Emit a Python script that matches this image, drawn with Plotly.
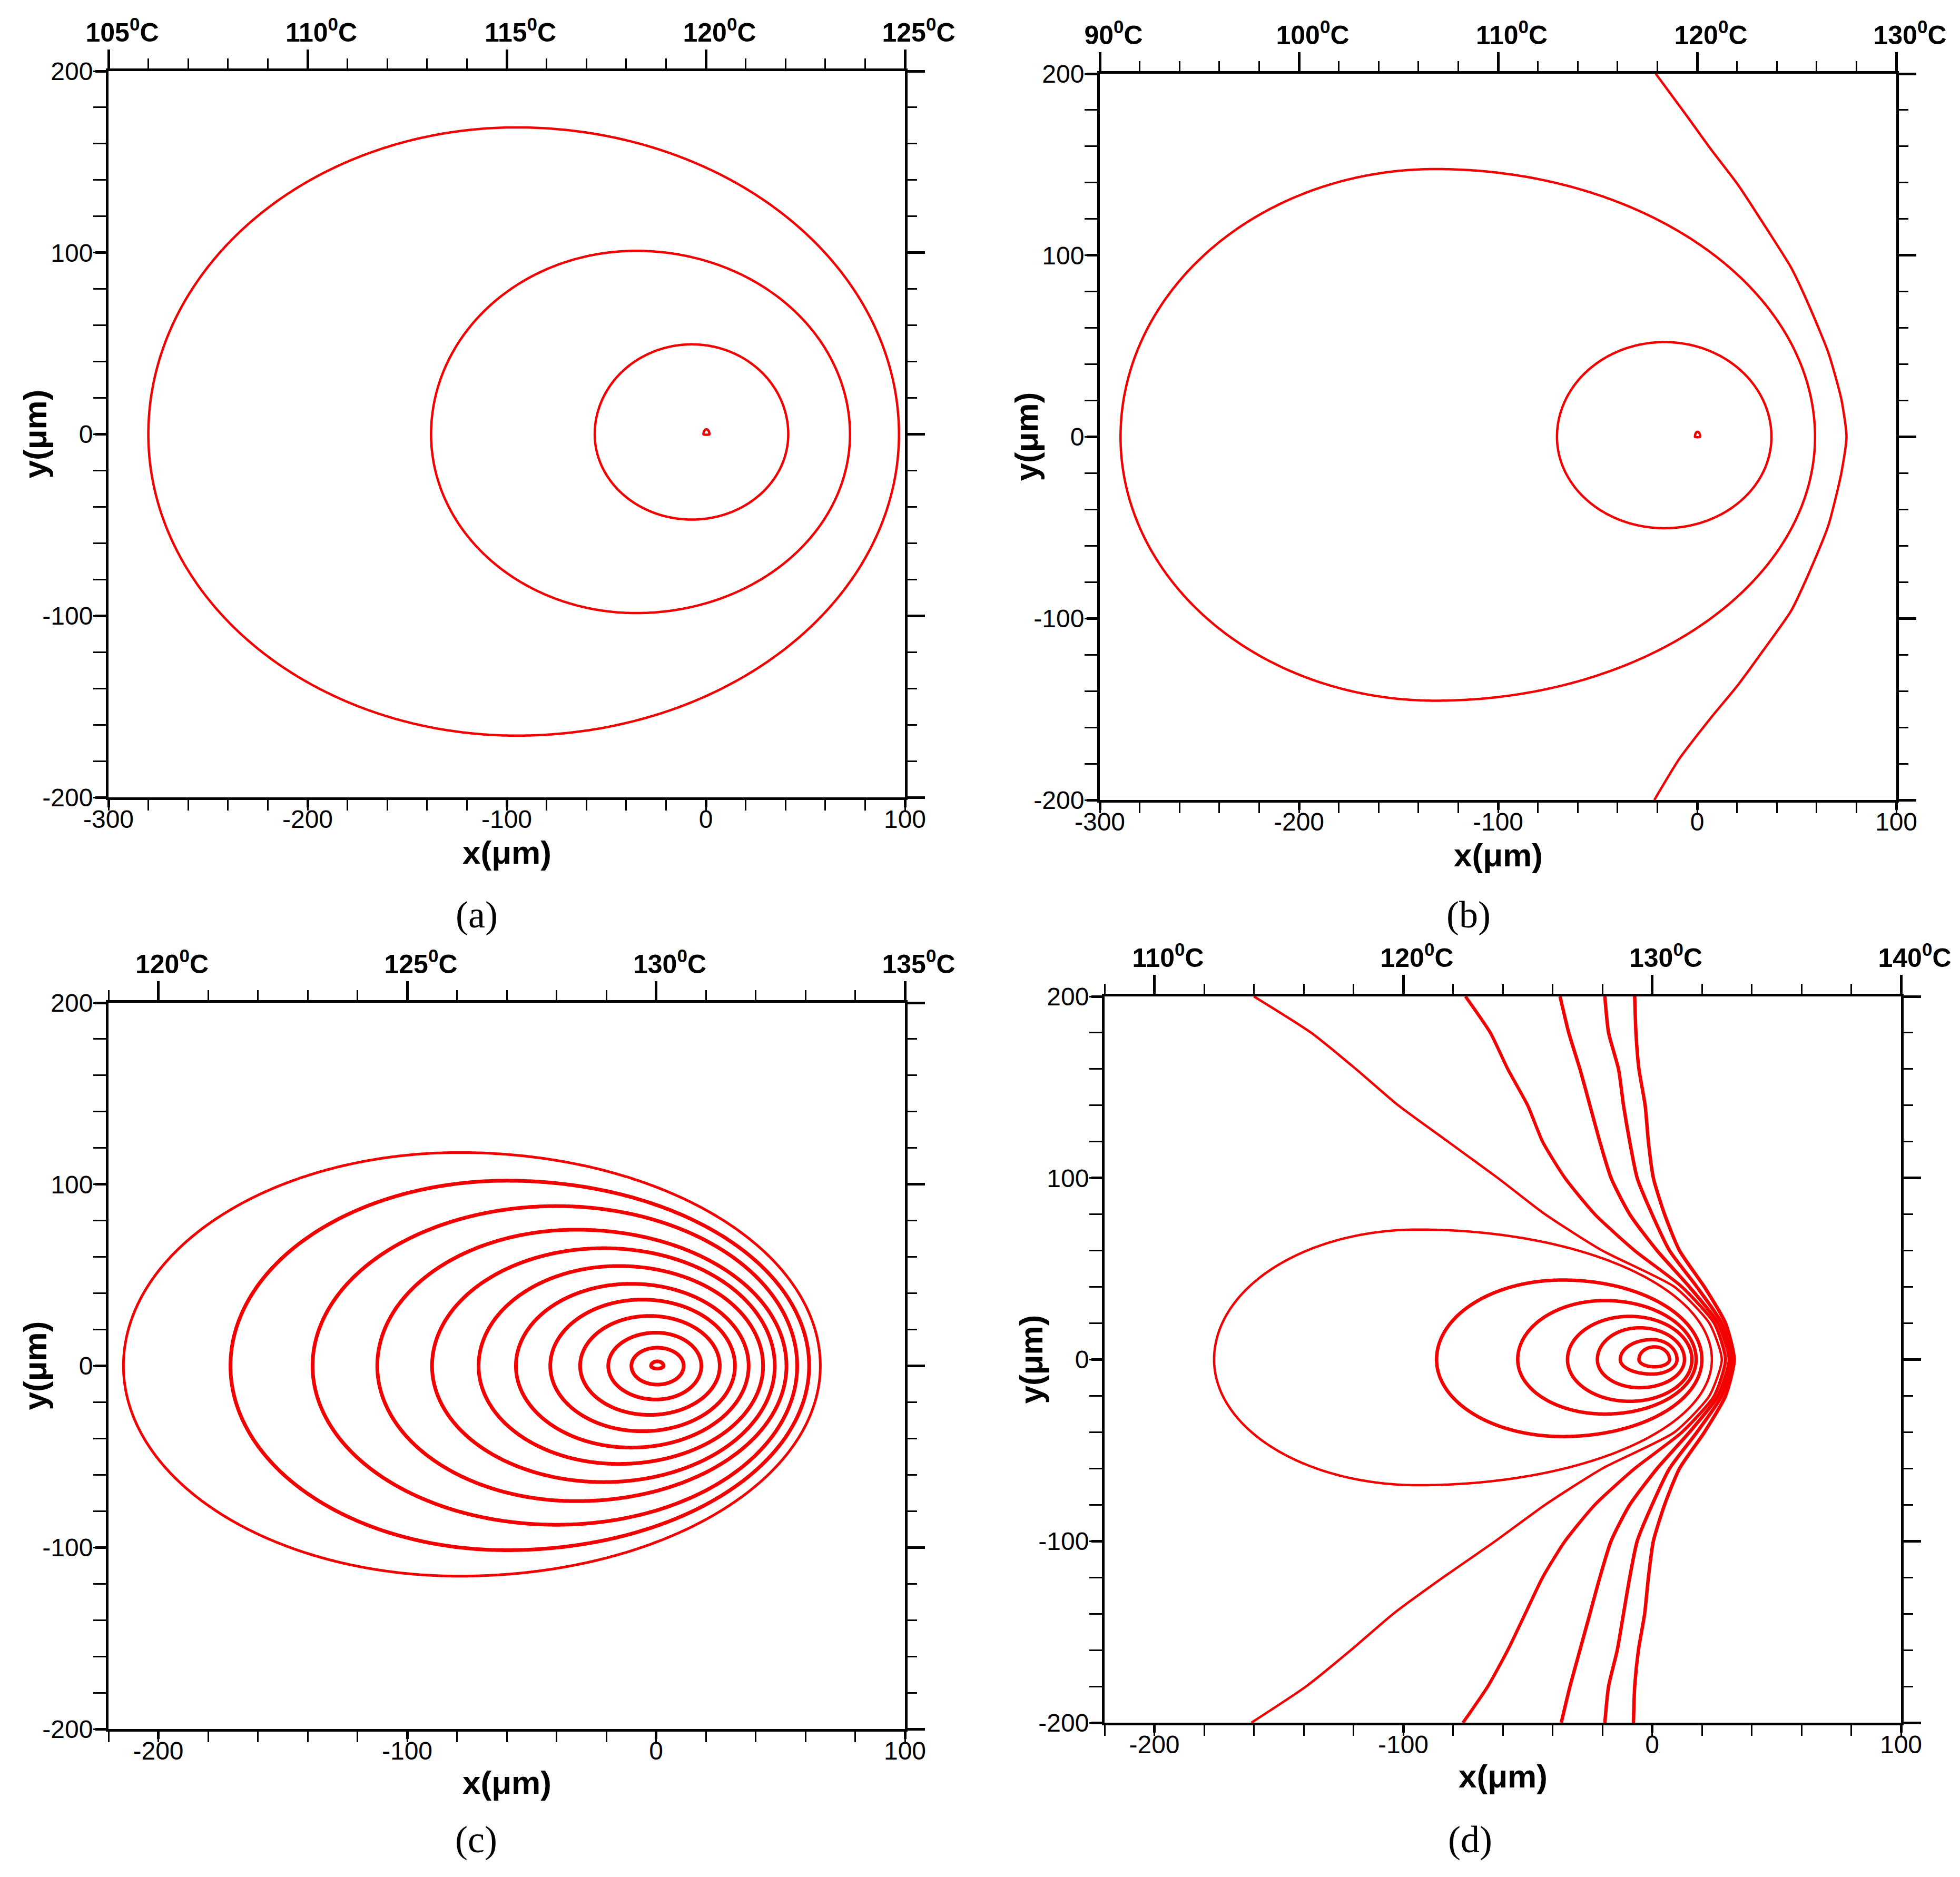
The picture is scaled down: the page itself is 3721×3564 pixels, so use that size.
import numpy as np
import plotly.graph_objects as go

W, H = 3721, 3564
OFF = 8  # page body margin in the browser
RED = "#f40000"

# ---------------- data (um) ----------------
# closed isotherms: left end, x of top/bottom extreme, right end, top, bottom
a_x_left = [-280, -138, -55.8, -1.2]
a_x_peak = [-95, -35, -7, 0.3]
a_x_right = [97, 72.4, 41.4, 1.8]
a_y_top = [169, 101, 49.5, 2.7]
a_y_bottom = [-166, -98.5, -47, -0.3]

b_x_left = [-289.6, -70.4, -1.1]
b_x_peak = [-131.5, -16.4, 0.2]
b_x_right = [59.2, 37.3, 1.5]
b_y_top = [147.5, 52.2, 2.8]
b_y_bottom = [-145.3, -50.3, -0.2]
# open isotherm in (b)
b_open_x = [-20.8, -6, 6.5, 20.6, 34.7, 47.3, 56.7, 66, 72.4, 75,
            72.4, 66, 56.7, 47.3, 33.2, 20.6, 6.5, -9, -21.5]
b_open_y = [200, 178, 159, 138.7, 115, 93, 71, 46, 20.8, 0,
            -20, -48.4, -73.6, -95.6, -117.6, -136.5, -155.3, -177.4, -200]

c_x_left = [-214, -171, -138, -112, -90, -71.3, -56.3, -42.5, -30.5, -19.2, -9.9, -2]
c_x_peak = [-79, -60, -40, -32, -21, -15, -10, -5.5, -2.6, 0, 0.5, 0.5]
c_x_right = [66, 61.5, 56.7, 52.4, 47.7, 43, 37.2, 31.7, 25.6, 18.2, 11.1, 3]
c_y_top = [117.5, 102, 88, 75, 64.8, 55, 45.2, 36.5, 27.5, 18.3, 10, 2.5]
c_y_bottom = [-115.8, -101.5, -87.5, -74.5, -64, -54, -45, -36, -27, -18.5, -10.3, -1.5]

d_x_left = [-176, -86.6, -54, -34, -22, -12.8, -5.3]
d_x_peak = [-94, -36, -19, -9, -5, 0, 1]
d_x_right = [24, 20, 17.7, 16, 13, 10, 7]
d_y_top = [71.6, 43.8, 32.5, 23.8, 17.5, 11, 7]
d_y_bottom = [-69.2, -42.4, -30, -23, -15.5, -8, -4]
# open isotherms in (d), x at these y levels
d_open_y = [200, 180, 160, 140, 120, 100, 80, 60, 40, 20, 0,
            -20, -40, -60, -80, -100, -120, -140, -160, -180, -200]
d_open_1 = [-160, -137, -119, -102, -82, -62, -43, -20, 9, 23, 28,
            23, 9, -20, -43, -63, -84, -104, -121, -139, -161]
d_open_2 = [-75, -65, -58, -50, -44, -35, -23, -7, 12, 25, 29.5,
            25, 12, -7, -23, -35, -44, -51, -58, -66, -76]
d_open_3 = [-37, -33.5, -29, -25, -21, -16.5, -9, 2, 15, 26.5, 31,
            26.5, 15, 2, -9, -16.5, -21, -25, -29, -33, -36.5]
d_open_4 = [-19, -17.5, -13.5, -11.5, -9, -6, 0, 7, 18, 28, 32,
            28, 18, 7, 0, -6, -9, -11.5, -14, -17.5, -19]
d_open_5 = [-7, -6.5, -5.3, -2.8, -1.5, 0.5, 5, 11, 21, 29.5, 33,
            29.5, 21, 11, 5, 0.5, -1.5, -3, -5.5, -7, -7.5]

# axes
ab_x_ticks = [-300, -200, -100, 0, 100]
cd_x_ticks = [-200, -100, 0, 100]
y_ticks = [-200, -100, 0, 100, 200]
a_temp_ticks = [105, 110, 115, 120, 125]
b_temp_ticks = [90, 100, 110, 120, 130]
c_temp_ticks = [120, 125, 130, 135]
d_temp_ticks = [110, 120, 130, 140]


def px(v):
    return (v - OFF) / W


def py(v):
    return 1 - (v - OFF) / H


def egg(xl, xp, xr, yt, yb, n=400):
    t = np.linspace(0, 2 * np.pi, n)
    c, s = np.cos(t), np.sin(t)
    x = xp + np.where(c >= 0, xr - xp, xp - xl) * c
    y = np.where(s >= 0, yt, -yb) * s
    return x, y


fig = go.Figure()


def add_line(i, x, y, w):
    n = "" if i == 1 else str(i)
    fig.add_trace(go.Scatter(x=x, y=y, mode="lines", line=dict(color=RED, width=w, shape="spline", smoothing=0.6),
                             xaxis="x" + n, yaxis="y" + n, showlegend=False, hoverinfo="skip"))


def add_rings(i, xl, xp, xr, yt, yb, widths):
    for k in range(len(xl)):
        x, y = egg(xl[k], xp[k], xr[k], yt[k], yb[k])
        add_line(i, x, y, widths[k])


add_rings(1, a_x_left, a_x_peak, a_x_right, a_y_top, a_y_bottom, [4.5] * 4)
add_rings(2, b_x_left, b_x_peak, b_x_right, b_y_top, b_y_bottom, [4.5] * 3)
add_line(2, b_open_x, b_open_y, 4.5)
add_rings(3, c_x_left, c_x_peak, c_x_right, c_y_top, c_y_bottom, [5] + [7] * 11)
add_rings(4, d_x_left, d_x_peak, d_x_right, d_y_top, d_y_bottom, [4.5] + [6.5] * 6)
for xs, w in [(d_open_1, 4.5), (d_open_2, 6), (d_open_3, 6.5), (d_open_4, 6.5), (d_open_5, 6.5)]:
    add_line(4, xs, d_open_y, w)

tick_font = dict(family="Liberation Sans", size=48, color="black")
temp_font = dict(family="Liberation Sans", size=50, color="black", weight="bold")
title_font = dict(family="Liberation Sans", size=62, color="black", weight="bold")
line = dict(showline=True, linewidth=5, linecolor="black", showgrid=False, zeroline=False,
            ticks="outside", tickcolor="black", automargin=False)

# plot frames in reference pixels: left, right, top, bottom; x-title y; caption x, y
panels = [
    ((206, 1718, 135, 1514), 1618, (905, 1737), [-300, 100], ab_x_ticks, [105, 125], a_temp_ticks, 1),
    ((2088, 3600, 140, 1519), 1623, (2788, 1737), [-300, 100], ab_x_ticks, [90, 130], b_temp_ticks, 2),
    ((206, 1718, 1904, 3283), 3384, (904, 3493), [-220, 100], cd_x_ticks, [119, 135], c_temp_ticks, 1),
    ((2097, 3609, 1892, 3271), 3372, (2791, 3493), [-220, 100], cd_x_ticks, [108, 140], d_temp_ticks, 2),
]

annotations = []
for i, (frame, xt_y, cap, xr, xt, tr, tt, tm) in enumerate(panels, start=1):
    n = "" if i == 1 else str(i)
    left, right, top, bottom = frame
    xd = [px(left), px(right)]
    yd = [py(bottom), py(top)]
    xtop, yright = "x" + str(i + 4), "y" + str(i + 4)
    # empty traces so the top (temperature) and right axes get drawn
    fig.add_trace(go.Scatter(x=[None], y=[None], xaxis=xtop, yaxis="y" + n, showlegend=False, hoverinfo="skip"))
    fig.add_trace(go.Scatter(x=[None], y=[None], xaxis="x" + n, yaxis=yright, showlegend=False, hoverinfo="skip"))
    fig.update_layout(**{
        "xaxis" + n: dict(domain=xd, anchor="y" + n, range=xr, tickmode="array", tickvals=xt,
                          ticktext=[str(v) for v in xt], ticklen=14, tickwidth=5, tickfont=tick_font,
                          ticklabelstandoff=-19,
                          minor=dict(ticks="outside", tickmode="linear", tick0=0, dtick=20, ticklen=20,
                                     tickwidth=2.5, tickcolor="black"), **line),
        "yaxis" + n: dict(domain=yd, anchor="x" + n, range=[-200, 200], tickmode="array", tickvals=y_ticks,
                          ticktext=[str(v) for v in y_ticks], ticklen=20, tickwidth=5, tickfont=tick_font,
                          ticklabelstandoff=-5,
                          minor=dict(ticks="outside", tickmode="linear", tick0=0, dtick=20, ticklen=24,
                                     tickwidth=2.5, tickcolor="black"), **line),
        "xaxis" + str(i + 4): dict(overlaying="x" + n, anchor="y" + n, side="top", range=tr, tickmode="array",
                                   tickvals=tt, ticktext=[f"{v}<sup>0</sup>C" for v in tt], ticklen=36,
                                   tickwidth=5, tickfont=temp_font, ticklabelshift=26, ticklabelstandoff=-5,
                                   minor=dict(ticks="outside", tickmode="linear", tick0=tt[0], dtick=tm,
                                              ticklen=19, tickwidth=2.5, tickcolor="black"), **line),
        "yaxis" + str(i + 4): dict(overlaying="y" + n, anchor="x" + n, side="right", range=[-200, 200],
                                   tickmode="array", tickvals=y_ticks, showticklabels=False, ticklen=33,
                                   tickwidth=5,
                                   minor=dict(ticks="outside", tickmode="linear", tick0=0, dtick=20, ticklen=18,
                                              tickwidth=2.5, tickcolor="black"), **line),
    })
    annotations.append(dict(x=(xd[0] + xd[1]) / 2, y=py(xt_y), xref="paper", yref="paper", text="x(μm)",
                            showarrow=False, font=title_font, xanchor="center", yanchor="middle"))
    annotations.append(dict(x=px(left - 140), y=(yd[0] + yd[1]) / 2, xref="paper", yref="paper", text="y(μm)",
                            showarrow=False, textangle=-90, font=title_font, xanchor="center", yanchor="middle"))
    annotations.append(dict(x=px(cap[0]), y=py(cap[1]), xref="paper", yref="paper",
                            text="(" + "abcd"[i - 1] + ")", showarrow=False,
                            font=dict(family="Liberation Serif", size=72, color="black"),
                            xanchor="center", yanchor="middle"))

fig.update_layout(width=W, height=H, autosize=False, margin=dict(l=0, r=0, t=0, b=0),
                  paper_bgcolor="white", plot_bgcolor="white", annotations=annotations)

fig.write_html("out.html")
